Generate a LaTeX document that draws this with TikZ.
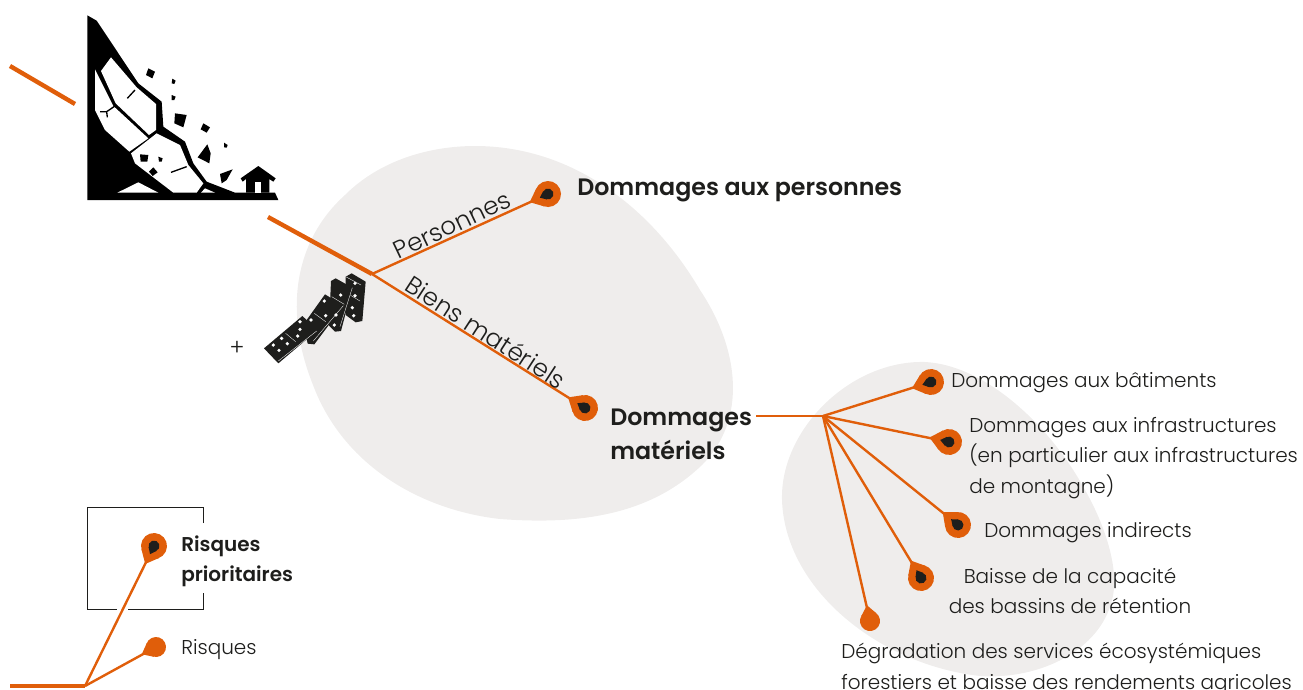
\documentclass[tikz,border=0pt]{standalone}
\usepackage{fontspec}
\setmainfont{Poppins Light}[BoldFont={Poppins SemiBold}]
\definecolor{org}{HTML}{E05E0A}
\definecolor{blob}{HTML}{EFEDEC}
\definecolor{ink}{HTML}{1E1E1C}
\tikzset{
  pinbig/.pic={
    \fill[org] (0,0) circle[radius=13];
    \fill[org] (8.4,-9.9) -- (20,0) -- (8.4,9.9) -- cycle;
    \fill[ink] (0,0) circle[radius=5.5];
    \fill[ink] (3.2,-4.5) -- (9,0) -- (3.2,4.5) -- cycle;
  },
  pinsmall/.pic={
    \fill[org] (0,0) circle[radius=10];
    \fill[org] (6.25,-7.8) -- (16,0) -- (6.25,7.8) -- cycle;
  },
  thin line/.style={draw=org,line width=1.8pt},
  thick line/.style={draw=org,line width=3.3pt},
  lbl/.style={font=\fontsize{15}{22.7}\selectfont,text=ink,inner sep=0pt},
  lblc/.style={lbl,align=center},
  lbll/.style={lbl,align=left,anchor=west},
  boldlbl/.style={font=\bfseries\fontsize{17.8}{25.5}\selectfont,text=ink,inner sep=0pt,align=left,anchor=west},
  legendbold/.style={font=\bfseries\fontsize{15}{22.5}\selectfont,text=ink,inner sep=0pt,align=left,anchor=west},
  linelbl/.style={font=\fontsize{18.5}{22}\selectfont,text=ink,inner sep=0pt},
}
\begin{document}
\begin{tikzpicture}[x=.75pt,y=-.75pt]
\useasboundingbox (0,0) rectangle (1303,689);
% blobs
\fill[blob] (475,146) .. controls (570,146) and (650,205) .. (700,290) .. controls (740,350) and (747,420) .. (702,465) .. controls (650,515) and (580,525) .. (500,519) .. controls (420,510) and (343,465) .. (313,385) .. controls (283,310) and (295,240) .. (345,195) .. controls (380,160) and (430,146) .. (475,146) -- cycle;
\fill[blob] (925,362) .. controls (985,365) and (1050,425) .. (1085,490) .. controls (1105,525) and (1120,570) .. (1112,600) .. controls (1100,650) and (1040,680) .. (980,676) .. controls (880,665) and (785,590) .. (782,500) .. controls (780,430) and (850,360) .. (925,362) -- cycle;
% coordinates
\coordinate (a0) at (10,66);
\coordinate (a1) at (75,104);
\coordinate (a2) at (268,217);
\coordinate (hub) at (372,274);
\coordinate (pP) at (548,194);
\coordinate (pM) at (585,408);
\coordinate (dm) at (756,416);
\coordinate (fan) at (823,416);
\coordinate (f1) at (931,382);
\coordinate (f2) at (949,442);
\coordinate (f3) at (958,525);
\coordinate (f4) at (921,578);
\coordinate (f5) at (870,621);
\coordinate (l0) at (10,686);
\coordinate (l1) at (85,686);
\coordinate (l2) at (154,546);
\coordinate (l3) at (156,647);
% landslide
\begin{scope}[x=.25pt,y=-.25pt]
\fill[black] (262,46) -- (290,62) -- (415,250) -- (485,305) -- (490,380) -- (555,425) -- (580,490) -- (620,545) -- (705,578) -- (825,578) -- (835,600) -- (262,600) -- cycle;
\fill[white] (333,172) -- (410,262) -- (468,312) -- (468,390) -- (447,405) -- (347,310) -- (303,213) -- cycle;
\fill[white] (285,208) -- (340,318) -- (445,415) -- (388,455) -- (315,390) -- (285,330) -- cycle;
\fill[white] (470,400) -- (540,435) -- (565,495) -- (610,550) -- (590,578) -- (520,578) -- (405,490) -- (393,460) -- cycle;
\fill[white] (615,565) -- (645,578) -- (603,578) -- cycle;
\fill[white] (352,578) -- (415,547) -- (475,578) -- cycle;
\draw[line width=1pt] (405,270) -- (382,295);
\draw[line width=1pt] (345,318) -- (320,335) -- (300,335) (320,335) -- (322,352);
\draw[line width=1pt] (513,517) -- (560,500);
\fill (420,463) -- (445,465) -- (442,485) -- (422,485) -- cycle;
\fill (475,470) -- (488,475) -- (485,485) -- (477,485) -- cycle;
\fill (460,502) -- (473,517) -- (458,528) -- (447,515) -- cycle;
\fill (445,205) -- (465,215) -- (457,235) -- (438,225) -- cycle;
\fill (517,236) -- (527,242) -- (523,252) -- (515,250) -- cycle;
\fill (515,285) -- (527,290) -- (523,300) -- (515,300) -- cycle;
\fill (525,340) -- (560,345) -- (550,382) -- (523,370) -- cycle;
\fill (610,370) -- (630,382) -- (620,398) -- (602,388) -- cycle;
\fill (622,433) -- (632,460) -- (628,490) -- (593,472) -- cycle;
\fill (672,428) -- (683,435) -- (680,443) -- (672,442) -- cycle;
\fill (660,522) -- (698,508) -- (680,540) -- (665,550) -- cycle;
\fill (775,498) -- (827,535) -- (820,545) -- (808,537) -- (808,578) -- (738,578) -- (738,537) -- (728,545) -- (722,535) -- cycle;
\fill[white] (765,545) rectangle (783,578);
\end{scope}
% connectors
\draw[thick line] (a0) -- (a1);
\draw[thick line] (a2) -- (hub);
\draw[thin line] (hub) -- (pP);
\draw[thin line] (hub) -- (pM);
\draw[thin line] (dm) -- (fan);
\foreach \f in {f1,f2,f3,f4,f5} \draw[thin line] (fan) -- (\f);
\draw[draw=org,line width=3pt] (l0) -- (l1);
\draw[thin line] (l1) -- (l2);
\draw[thin line] (l1) -- (l3);
% pins
\path (pP) pic[rotate=204]{pinbig};
\path (pM) pic[rotate=148]{pinbig};
\path (f1) pic[rotate=198]{pinbig};
\path (f2) pic[rotate=167]{pinbig};
\path (f3) pic[rotate=140]{pinbig};
\path (f4) pic[rotate=120]{pinbig};
\path (f5) pic[rotate=101]{pinsmall};
\path (l2) pic[rotate=244]{pinbig};
\path (l3) pic[rotate=207]{pinsmall};
% legend box
\draw[draw=ink,line width=.6pt] (203,523) -- (203,507.5) -- (87,507.5) -- (87,609) -- (117,609) (128,609) -- (203,609) -- (203,593);
% dominoes (coordinates of a 3x crop from 255,265)
\begin{scope}[shift={(255,265)},x=.25pt,y=-.25pt]
\fill[ink] (272,35) -- (290,25) -- (332,50) -- (322,168) -- (302,172) -- (272,150) -- cycle;
\draw[white,line width=.25pt] (272,35) -- (318,60) (285,90) -- (315,108);
\fill[ink] (228,48) -- (242,40) -- (292,68) -- (258,198) -- (240,200) -- (222,182) -- cycle;
\draw[white,line width=.25pt] (292,68) -- (255,185) (230,95) -- (268,118);
\fill[ink] (210,88) -- (265,122) -- (178,238) -- (158,236) -- (155,222) -- (155,165) -- cycle;
\draw[white,line width=.25pt] (265,122) -- (175,228) (178,145) -- (212,170);
\fill[ink] (142,153) -- (188,195) -- (70,295) -- (27,250) -- cycle;
\draw[white,line width=.25pt] (92,205) -- (122,230) (185,198) -- (70,288);
\foreach \p in {(300,55),(300,92),(292,128),(296,152),
  (257,90),(243,150),(238,180),
  (208,108),(212,152),(168,165),
  (135,170),(135,193),(128,213),(80,220),(97,236),(55,240),(72,256)}
  \fill[white] \p circle[radius=5.5];
\end{scope}
% text
\node[boldlbl] (tP) at (577,190) {Dommages aux personnes};
\node[boldlbl] (tM) at (610,434) {Dommages\\matériels};
\node[linelbl,rotate=25.5] (lP) at (452,225) {Personnes};
\node[linelbl,rotate=-33] (lB) at (486,332) {Biens matériels};
\node[inner sep=0pt,font=\fontsize{17}{20}\selectfont,text=ink] (plus) at (237,348) {+};
\node[lbll] (t1) at (951,383) {Dommages aux bâtiments};
\node[lbll] (t2) at (969,458) {Dommages aux infrastructures\\(en particulier aux infrastructures\\de montagne)};
\node[lbll] (t3) at (984,533) {Dommages indirects};
\node[lblc] (t4) at (1070,591) {Baisse de la capacité\\des bassins de rétention};
\node[lbll] (t5) at (841,669) {Dégradation des services écosystémiques\\forestiers et baisse des rendements agricoles};
\node[legendbold] (tR) at (181,561) {Risques\\prioritaires};
\node[lbll] (tR2) at (181,650) {Risques};
\end{tikzpicture}
\end{document}
